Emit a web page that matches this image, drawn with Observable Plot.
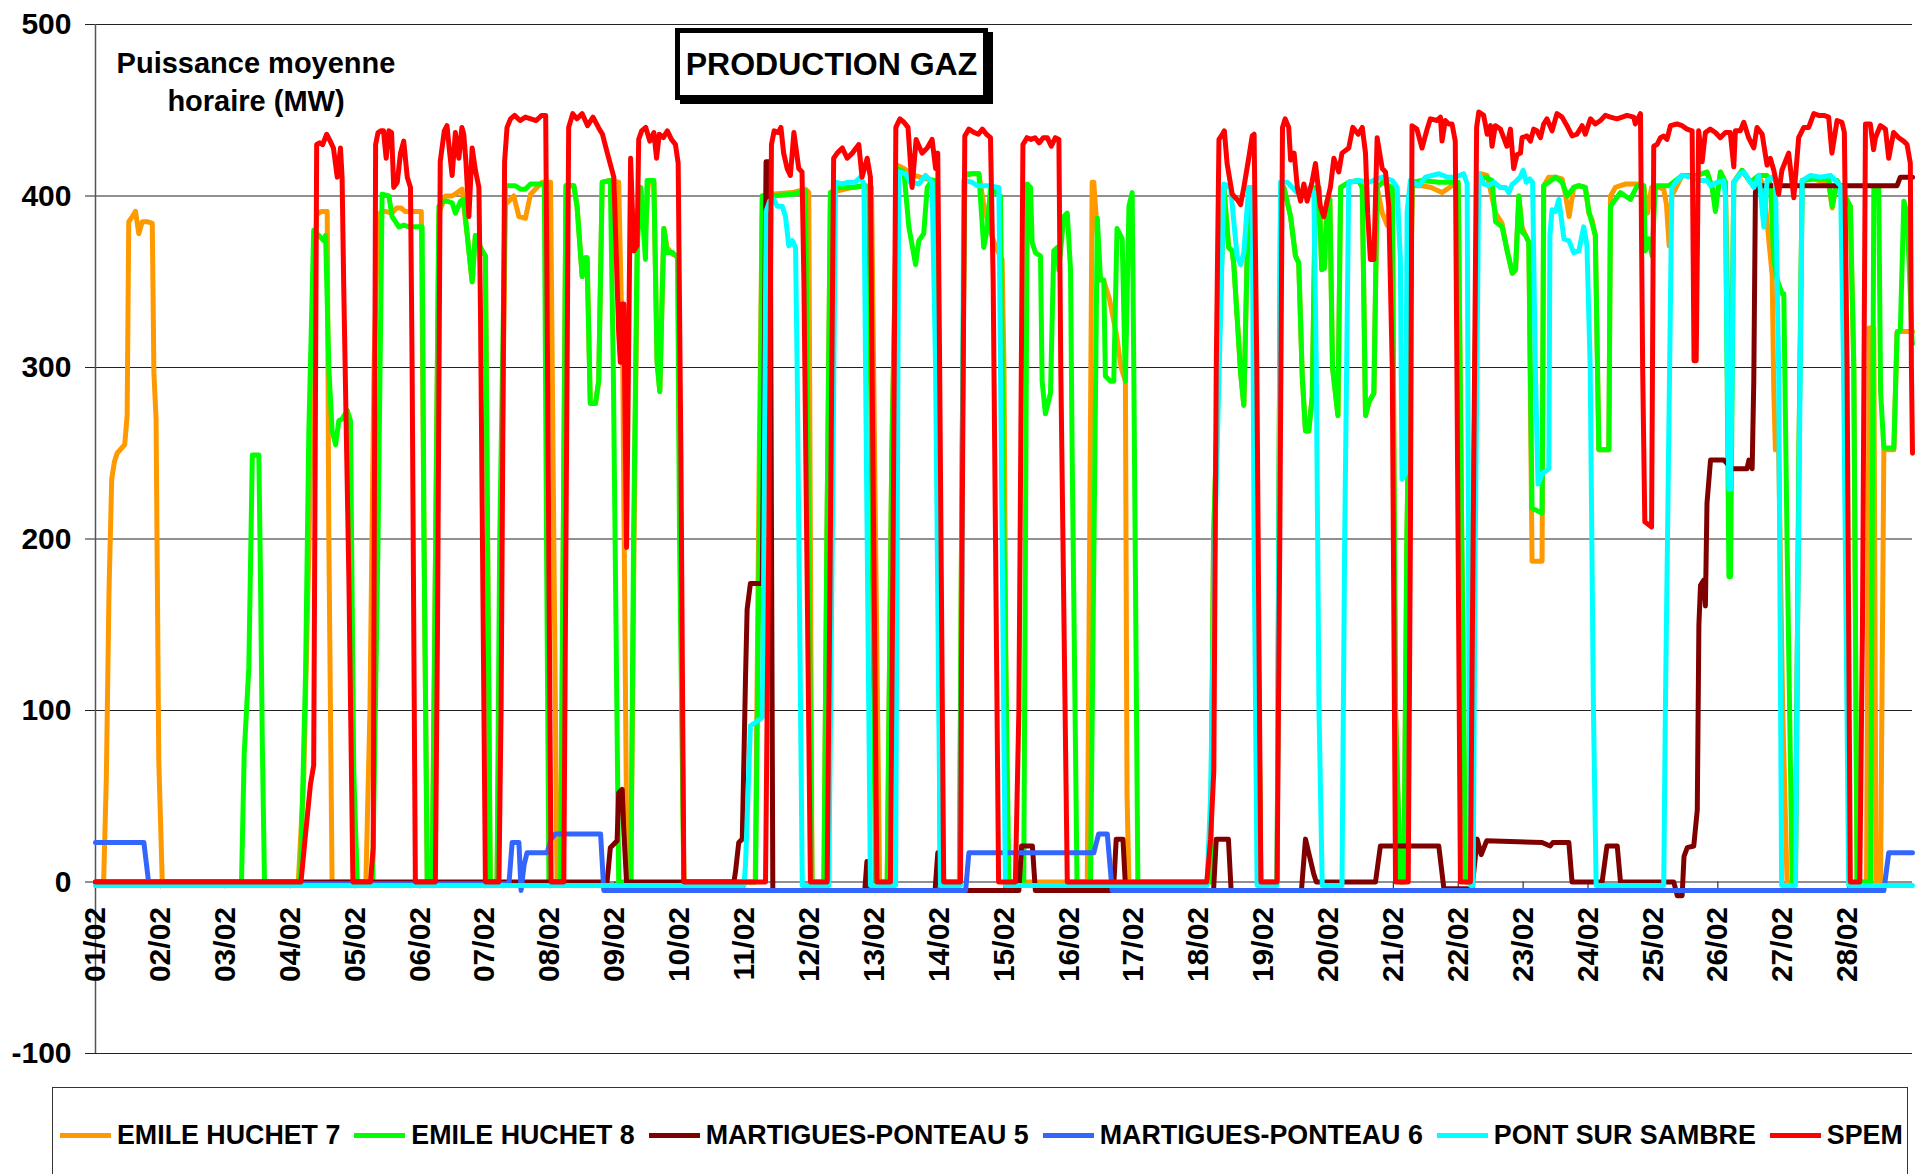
<!DOCTYPE html>
<html><head><meta charset="utf-8">
<script src="https://cdn.jsdelivr.net/npm/d3@7"></script>
<script src="https://cdn.jsdelivr.net/npm/@observablehq/plot@0.6"></script>
<style>
html,body{margin:0;padding:0;background:#fff;overflow:hidden;}
#wrap{position:relative;width:1916px;height:1174px;font-family:"Liberation Sans",Arial,sans-serif;font-weight:bold;color:#000;}
#ylab{position:absolute;left:56px;top:44px;width:400px;text-align:center;font-size:29px;line-height:38px;}
#title{position:absolute;left:675px;top:28px;width:313px;height:72px;box-sizing:border-box;border:5px solid #000;box-shadow:5px 4px 0 #000;background:#fff;text-align:center;font-size:32px;line-height:62px;}
#legend{position:absolute;left:52px;top:1087px;width:1856px;height:120px;box-sizing:border-box;border:1.5px solid #333;padding:32px 0 0 7px;font-size:26.8px;line-height:30px;}
#legendRow{display:flex;align-items:center;height:30px;}
.item{display:flex;align-items:center;margin-right:14px;white-space:nowrap;}
.sw{width:51px;height:5px;margin-right:6px;}
</style></head>
<body><div id="wrap"><div id="chart"></div>
<div id="ylab">Puissance moyenne<br>horaire (MW)</div>
<div id="title">PRODUCTION GAZ</div>
<div id="legend"><div id="legendRow"></div></div>
</div>
<script>
// ---- data: [hour since 01/02 00:00, MW] ----
const seriesNames = ["EMILE HUCHET 7","EMILE HUCHET 8","MARTIGUES-PONTEAU 5","MARTIGUES-PONTEAU 6","PONT SUR SAMBRE","SPEM"];
const dayLabels = ["01/02","02/02","03/02","04/02","05/02","06/02","07/02","08/02","09/02","10/02","11/02","12/02","13/02","14/02","15/02","16/02","17/02","18/02","19/02","20/02","21/02","22/02","23/02","24/02","25/02","26/02","27/02","28/02"];
const yTicks = [-100,0,100,200,300,400,500];

const eh7 = [[0,0],[3,0],[4,60],[5,170],[6,235],[7,245],[8,250],[10.8,255],[11.7,272],[12.3,385],[13.6,388],[14.8,391],[16,378],[17.3,385],[19.1,385],[21,384],[21.6,297],[22.4,270],[23.4,71],[24.7,0],
[75,0],[77,60],[79,200],[80.5,330],[81.8,389],[83.5,391],[85.7,391],[86.3,200],[87.5,0],
[100,0],[101.5,100],[103,300],[104.5,389],[106,391],[107.2,391],[109.6,390],[111.4,393],[113,393],[114.5,391],[117,391],[120.5,391],[121.5,200],[122.7,0],
[124.5,0],[125.5,150],[127,390],[129.4,400],[131.9,400],[133.8,402],[135.6,404],[136.5,390],[137.5,377],[139.3,350],[140.5,377],[143,368],[144.2,365],[145,200],[146,0],
[148.5,0],[150,200],[151.6,395],[154.7,400],[156.6,388],[159,387],[160.9,401],[163.3,405],[165.2,408],[168.3,408],[169.5,200],[170.7,0],
[172,0],[173,200],[174,406],[176.9,406],[178.1,394],[180,353],[181.2,364],[181.8,364],[183,279],[184.9,279],[186.1,292],[187.4,408],[190.4,409],[193.5,408],[195,300],[196.6,0],
[198,0],[199.5,250],[200.5,380],[201.6,405],[203.4,380],[204.5,408],[206.5,408],[207.7,303],[208.7,286],[210.2,381],[211.4,370],[213.5,366],[215.3,365],[216.3,200],[217.6,0],
[244,0],[245.5,250],[246.6,400],[250,401],[257.6,402],[262.6,404],[263.8,402],[265,0],
[269.4,0],[270.5,200],[271.8,402],[280,405],[285,406],[287,405],[288.5,200],[290,0],
[292.8,0],[294.5,250],[296.5,418],[299,416],[303,412],[307,410],[310.7,409],[311.5,250],[312.5,0],
[319.5,0],[320.5,250],[321.5,413],[326.7,413],[328.5,395],[330,385],[331,379],[333,370],[335.3,363],[336,300],[337.2,0],
[366.8,0],[368.6,408],[369.2,408],[370,390],[371.5,352],[373,350],[375,340],[377.5,320],[379.3,300],[380.9,292],[381.5,51],[382.2,0],
[412.4,0],[413.5,200],[417.3,405],[419.1,370],[420.4,368],[421,360],[422.2,330],[423.5,297],[424.7,278],[425.9,363],[427.1,405],[428.4,405],[429.6,200],[431,0],
[437,0],[437.6,200],[438.3,405],[439.5,405],[442,388],[443.8,365],[445,361],[446.3,295],[447.5,263],[448.7,263],[450,283],[451.2,405],[452.5,405],[453.5,357],[454.5,358],[455.5,397],[456.5,398],[457.5,300],[458.5,286],[459.5,272],[460.5,405],[463.5,408],[467.2,409],[468.5,405],[469.7,272],[471,280],[472.8,285],[474,405],[475.9,390],[477.7,383],[479.6,405],[480.8,100],[482.6,0],
[483.9,0],[485,200],[487,406],[490.6,406],[494,405],[498,402],[501.7,406],[504,406],[505.3,200],[506.7,0],
[508.5,0],[509.5,200],[511,408],[512.2,413],[514.7,412],[517.8,390],[520.2,384],[522.1,368],[524,355],[525.2,357],[526.4,400],[527.6,382],[528.9,377],[530.1,373],[531.3,187],[535,187],[535.6,406],[537.5,411],[540,411],[542.4,410],[543.5,402],[545,388],[546.7,405],[548.6,406],[551,405],[552.3,390],[553.5,386],[554.7,377],[556,252],[559.7,252],[560.3,400],[562.1,405],[564,406],[566,407],[570,407],[572.6,406],[574,390],[575.5,405],[578,405],[580,404],[581,395],[582,371],[583,400],[586.8,412],[592.4,412],[596,414],[597.9,405],[599.1,395],[601,414],[602.8,408],[604.1,300],[604.7,250],[605.9,408],[609,415],[612.1,408],[615.2,412],[617,405],[618.2,385],[620.1,354],[620.7,286],[621.3,252],[622.5,252],[624,100],[625.6,0],
[628.7,0],[630,250],[631.2,409],[635.5,410],[641,407],[642.3,393],[644.1,409],[649,394],[650.3,300],[651.5,0],[655,0],[656,323],[657.7,323],[658.5,0],[660.2,0],[661.4,252],[665.1,252],[666.3,321],[668.8,321],[672,321]];

const eh8 = [[0,0],[54,0],[55,75],[56.7,125],[58,249],[60.4,249],[61,180],[61.7,80],[62.5,0],
[75.8,0],[77.7,122],[78.9,263],[80.7,380],[82.6,377],[84.4,374],[85.1,377],[86.3,300],[87.5,263],[88.8,255],[90,269],[91.2,270],[93.1,275],[94.3,269],[95.5,65],[96.8,0],
[102.5,0],[104.5,200],[106,401],[108.5,400],[109.7,388],[112.2,382],[114,383],[116,382],[118.5,382],[120.8,382],[121.5,200],[122.7,0],
[124.5,0],[125.5,150],[127,394],[128.8,397],[130,397],[131.9,396],[133.1,390],[135,397],[136.2,398],[137.5,377],[139.3,350],[140.5,377],[143,368],[144.2,365],[145,200],[146,0],
[148.5,0],[149.5,200],[151.6,406],[155.3,406],[157.2,404],[159,404],[160.9,407],[166,407],[166.8,200],[167.7,0],
[172,0],[173,200],[174,406],[176.9,406],[178.1,394],[180,353],[181.2,364],[181.8,364],[183,279],[184.9,279],[186.1,292],[187.4,408],[190.4,409],[191.5,300],[193.5,0],
[198,0],[199,200],[200.3,368],[201.6,405],[203.4,363],[204,409],[206.5,409],[207.7,303],[208.7,286],[210.2,381],[211.4,367],[213.5,367],[215.3,364],[216,200],[217.6,0],
[244.1,0],[245.5,200],[246.6,400],[250,400],[257.6,401],[262.6,403],[263.2,300],[265,0],
[269.4,0],[270.5,200],[271.8,402],[274.9,405],[279.8,405],[283.5,406],[286,405],[286.6,300],[288.5,0],
[292.8,0],[294.5,250],[296.5,416],[299,414],[300.8,382],[303.3,360],[304.5,374],[306.3,378],[307.6,405],[309.4,409],[310.7,409],[311.5,250],[312.5,0],
[319.5,0],[320.5,250],[321.5,412],[324.2,413],[326.7,413],[328.5,370],[329.8,381],[331,405],[332.9,402],[334.7,400],[336,200],[337.8,0],
[343.3,0],[344.6,407],[345.8,405],[346.4,373],[347.6,367],[349.5,365],[350.1,292],[351.3,273],[353.2,285],[354.4,368],[355.7,370],[356.3,357],[358.1,388],[359.4,390],[360.6,357],[361.2,250],[363,0],
[368,0],[370.5,387],[371.7,351],[372.9,351],[373.5,295],[375.4,292],[376.6,292],[377.8,381],[379.7,375],[380.9,292],[382.2,394],[383.4,402],[384,300],[385.5,0],
[412.4,0],[413.5,200],[417.3,405],[419.1,370],[420.4,368],[421,360],[422.2,330],[423.5,297],[424.7,278],[425.9,363],[427.1,405],[428.4,405],[429.6,200],[431,0],
[437,0],[437.6,200],[438.3,405],[439.5,405],[442,388],[443.8,365],[445,361],[446.3,295],[447.5,263],[448.7,263],[450,283],[451.2,405],[452.5,405],[453.5,357],[454.5,358],[455.5,397],[456.5,398],[457.5,300],[458.5,286],[459.5,272],[460.5,405],[463.5,408],[467.2,409],[468.5,405],[469.7,272],[471,280],[472.8,285],[474,405],[475.9,408],[479.6,405],[480.8,100],[482.6,0],
[483.9,0],[485,200],[487,408],[490.6,409],[496.8,408],[501.7,408],[504,408],[505.3,200],[506.7,0],
[508.5,0],[509.5,200],[511,408],[514.1,411],[516.5,409],[517.8,385],[520.2,382],[522.1,368],[524,355],[525.2,357],[526.4,400],[527.6,379],[528.9,377],[530.1,373],[531.3,218],[535,215],[535.6,406],[537.5,408],[540,411],[542.4,408],[544.3,400],[546.7,405],[548.6,406],[551,405],[552.3,391],[553.5,384],[554.7,377],[556,252],[559.7,252],[560.3,394],[562.1,398],[564,402],[565.8,400],[567.7,398],[568.9,402],[570.2,406],[572.6,406],[573.2,368],[574.5,375],[575.7,365],[576.9,406],[581.9,406],[586.8,412],[592.4,412],[596,414],[597.9,405],[599.1,391],[601,414],[602.8,408],[604.1,178],[604.7,178],[605.9,408],[609,415],[612.1,408],[615.2,412],[618.2,412],[619.5,406],[620.7,363],[622,351],[623.8,343],[624.4,343],[625.6,200],[627.5,0],
[628.7,0],[630,250],[631.2,409],[635.5,410],[641,410],[642.3,394],[644.1,409],[649,394],[650.3,300],[651.5,0],
[656.5,0],[657.7,405],[659.5,405],[660.2,286],[661.4,253],[665.1,253],[666.3,320],[667.5,322],[668.8,397],[670,390],[671.9,314],[672,314]];

const mp5 = [[0,0],[189.2,0],[190.4,20],[192.9,24],[193.5,52],[194.8,54],[195.4,30],[196.4,0],[236.1,0],[236.7,6],[237.9,23],[239.2,25],[239.8,71],[240.4,119],[241,159],[242.2,174],[246.6,174],[248,420],[249.5,420],[250.5,-5],[284.5,-5],[285.3,12],[286.2,-5],[310.5,-5],[311.5,17],[313,17],[314,-5],[341.5,-5],[342.5,21],[346.5,21],[347.6,-5],[376.5,-5],[377.5,25],[380,25],[381,-5],[413.5,-5],[414.5,25],[419,25],[420,-5],[446,-5],[447.5,25],[449,15],[450.5,5],[451.5,0],[473.4,0],[475.2,21],[496.8,21],[498.7,-4],[509.1,-4],[511,25],[512.5,16],[514.5,24],[535,23],[538,21],[539,23],[544.9,23],[546.1,0],[557.2,0],[559,21],[562.8,21],[564,0],[583.7,0],[585,-8],[586.8,-8],[587.5,15],[588.7,20],[591.1,21],[592.4,42],[593,150],[593.6,173],[594.8,176],[595.4,161],[596,221],[597.3,246],[602.2,246],[605.3,241],[610.8,241],[611.5,246],[612.7,241],[613.3,292],[613.9,402],[614.5,406],[666.3,406],[667.5,411],[672,411]];

const mp6 = [[0,23],[17.9,23],[19.7,-1],[152.9,-1],[154.1,23],[156.6,23],[157.4,-5],[158.5,10],[159.6,17],[167,17],[168.5,25],[170,28],[186.8,28],[188,-5],[321.8,-5],[323,17],[369.2,17],[371,28],[374.2,28],[376,-5],[661.4,-5],[663.2,17],[672,17]];

const pss = [[0,-2],[239.8,-2],[240.4,10],[242.2,91],[244.1,93],[246.6,96],[247,150],[248,391],[249.3,397],[250.9,398],[252.1,394],[254,394],[255.2,388],[256.4,371],[257.7,374],[258.9,370],[259.5,300],[261.4,-2],
[271.2,-2],[272.5,200],[273.7,408],[276.1,407],[278.6,408],[281,408],[282.9,411],[284.2,407],[284.8,300],[286.6,-2],
[295.9,-2],[297.1,414],[299.6,413],[301.4,408],[304.5,407],[307,412],[309.4,408],[310.7,300],[312.5,-2],
[319.9,-2],[321.1,409],[324.2,408],[326.1,406],[330.4,406],[334.1,405],[334.7,300],[336.5,-2],
[411.1,-2],[412.4,50],[414,200],[417.3,407],[419.8,405],[422.2,365],[423.5,360],[424.7,367],[426.5,405],[427.8,405],[428.5,200],[429.6,-2],
[437,-2],[438.3,408],[440.8,408],[442.6,405],[444.4,402],[446.9,402],[449.3,405],[450.6,402],[451.5,300],[452.5,100],[453.7,-2],
[461,-2],[462,200],[463.5,408],[467.2,409],[470.9,408],[475.9,411],[479.6,409],[481.4,405],[482.6,363],[483.2,235],[484.5,238],[485.1,391],[486.3,409],[489.4,406],[491.9,411],[496.8,413],[499.9,411],[503,411],[506,413],[507.3,407],[508,100],[508.5,-2],[509.5,-2],[510.3,200],[511.6,413],[513.4,407],[515.3,406],[517.2,408],[519.6,405],[521.5,405],[522.7,402],[524,407],[525,408],[526.9,411],[528,415],[529.2,408],[530.4,410],[531.5,408],[532.5,300],[533.5,232],[535,238],[537.5,241],[537.9,377],[538.7,392],[540,391],[541.2,398],[543.1,375],[544.9,374],[546.7,367],[548.6,368],[550.4,382],[551.6,371],[552.8,300],[554,100],[555,-2],
[580,-2],[580.6,100],[583,405],[585,409],[586.8,412],[589.9,411],[593.6,409],[596,409],[597.3,406],[599.8,408],[602.2,409],[602.8,400],[603.5,300],[604.1,229],[604.7,229],[605.3,300],[605.9,408],[608.3,413],[609.6,414],[612.1,408],[613.3,405],[615.2,412],[617,382],[618.2,409],[620.1,411],[621.3,409],[622.5,300],[623.6,-2],
[628.7,-2],[629.5,150],[631.2,409],[634.3,412],[638,411],[641.7,412],[644.1,408],[645.4,406],[646.5,300],[648.4,-2],[672,-2]];

const spem = [[0,0],[76,0],[77.5,25],[79.5,57],[80.7,68],[81.8,430],[83,431],[84,430],[85.5,436],[86.5,433],[88,428],[89.4,411],[90.6,428],[91.2,411],[91.8,348],[93.7,178],[95.2,0],
[101.7,0],[102.7,20],[103.6,430],[104.5,437],[105.5,438],[106.5,438],[107.5,422],[108.5,438],[109.5,437],[110.3,405],[111.6,408],[112.8,425],[114,432],[115.3,411],[116.5,405],[117.1,300],[118.3,0],
[125.7,0],[126.5,150],[127.5,420],[129,438],[130,441],[131,425],[131.9,412],[133.1,437],[134.4,422],[135.5,440],[136.2,436],[137,420],[138.1,388],[139.3,428],[140.5,415],[141.8,405],[142.4,330],[144.2,0],
[149.2,0],[150,100],[151.3,420],[152.2,440],[153.5,445],[155,447],[157,444],[159,446],[161,445],[163,444],[165,447],[166.5,447],[167.2,300],[168.5,0],
[173.2,0],[174,200],[175,440],[176.5,448],[178,445],[180,448],[182,441],[184,446],[186,440],[187.5,436],[189.3,425],[191.7,411],[193.5,320],[194.1,303],[194.8,337],[195.4,337],[196.4,195],[197.2,314],[197.9,422],[199.1,368],[200.3,371],[200.9,433],[202,438],[203.5,440],[205,432],[206.5,437],[207.5,422],[208.5,436],[210,434],[211.5,438],[213,433],[214.5,430],[215.5,419],[216.5,250],[217.6,0],
[247.8,0],[249,200],[250,430],[251,438],[252.5,437],[253.5,440],[254.5,425],[255.8,416],[257,412],[258.3,437],[260.1,416],[261.3,414],[262,350],[264.4,0],
[270.6,0],[271.5,150],[273,422],[274.3,425],[276.2,428],[278,422],[279.9,425],[282.3,430],[283.5,411],[285.4,422],[286.6,411],[287.2,300],[289,0],
[294,0],[295,200],[296,440],[297.5,445],[299,443],[300.5,440],[302,405],[303.5,433],[305.7,425],[307.6,428],[309.4,433],[310.7,416],[311.5,425],[312.2,300],[313.7,0],
[319.9,0],[320.5,200],[321.5,435],[323,439],[325,437],[326.5,436],[328,439],[329.5,436],[331,434],[332,350],[334,0],
[340.2,0],[341.5,100],[343,430],[344.5,434],[346,433],[347.5,434],[349,431],[350.5,434],[352,434],[353.5,429],[355,434],[356.3,433],[357,300],[359.4,0],
[411,0],[412.4,25],[413.6,65],[414.5,300],[415.5,433],[416.8,436],[417.5,438],[418.5,419],[420.4,401],[422.2,398],[423.5,395],[424.7,405],[426.5,422],[427.8,435],[428.5,436],[429.5,300],[431,0],
[437,0],[438,200],[439,440],[440,445],[441.3,440],[442,421],[443.3,425],[444.5,405],[445.7,397],[446.9,407],[448.1,397],[449.9,408],[451.2,419],[453,394],[454.3,388],[455.5,397],[456.7,405],[458,422],[459.8,414],[461,425],[463.5,428],[465,440],[467,436],[468.5,440],[469.7,425],[470.5,390],[471.5,363],[472.8,363],[474,434],[475.9,416],[477.1,414],[478.3,394],[479.6,300],[480.8,0],
[485.5,0],[486.3,200],[486.9,441],[488.7,439],[490.6,428],[492.5,439],[493.7,445],[496.2,444],[497.4,446],[498,432],[499.2,444],[500.5,442],[501.7,442],[502.9,432],[503.5,300],[504.8,0],
[508.5,0],[509.5,200],[510.8,440],[511.6,449],[513.4,447],[514.7,436],[515.9,441],[516.5,429],[517.7,441],[519.6,439],[520.8,434],[522,429],[523.3,439],[524.5,416],[525.7,424],[527,425],[527.6,434],[529.4,435],[530.7,432],[531.9,439],[533.1,438],[534.4,434],[535.6,442],[536.8,445],[538.7,438],[540.5,448],[542.4,446],[544.2,441],[546.1,435],[547.9,436],[549.8,441],[551,436],[552.9,445],[554.7,442],[556.6,444],[558.4,447],[560.3,446],[562.7,445],[564.6,446],[566.4,447],[568.9,446],[569.5,442],[571.4,448],[572.2,300],[573,210],[575.5,207],[576.3,429],[577.5,430],[578.8,434],[580,435],[581.2,433],[582.5,441],[584.9,442],[586.8,441],[588.6,439],[590.5,438],[591.2,304],[592,304],[592.9,438],[594.2,420],[595.4,437],[597.2,439],[599.1,437],[600.9,434],[602.8,437],[604.6,437],[605.9,417],[606.5,438],[608.3,438],[609.6,443],[611.4,434],[613.3,428],[614.5,440],[616.4,436],[618.2,418],[619.4,422],[620.7,415],[622.5,401],[623.7,415],[626.2,425],[628.1,399],[629.9,434],[631.8,440],[633.6,440],[635.5,448],[637.3,447],[639.2,447],[641,446],[642.2,425],[644.1,444],[645.9,443],[646.8,437],[647.8,300],[649,0],
[652.5,0],[653.5,150],[654.6,442],[656.4,442],[657.6,427],[658.3,434],[660.1,441],[662,439],[663.2,422],[665,437],[666.9,434],[668.7,432],[670,430],[671.2,419],[671.6,300],[672,250]];

// ---- styling ----
const colors = ["#FF9900","#00FF00","#800000","#3366FF","#00FFFF","#FF0000"];
const allSeries = [eh7, eh8, mp5, mp6, pss, spem];
const dayHours = dayLabels.map((_, i) => i * 24);

const lineMarks = allSeries.map((s, i) => Plot.line(s, {x: d => d[0], y: d => d[1], stroke: colors[i], strokeWidth: 5, strokeLinejoin: "round"}));

const chart = Plot.plot({
  width: 1916, height: 1087,
  marginLeft: 95, marginRight: 4, marginTop: 24, marginBottom: 34,
  style: {fontFamily: "'Liberation Sans', Arial, sans-serif", fontWeight: "bold", color: "#000", background: "#fff"},
  x: {domain: [0, 672], axis: null},
  y: {domain: [-100, 500], axis: null},
  marks: [
    Plot.ruleY(yTicks, {stroke: "#222", strokeWidth: 1.2}),
    Plot.axisY(yTicks, {tickSize: 10, tickPadding: 14, fontSize: 30, fontWeight: "bold", stroke: "#222", tickFormat: d => String(d), label: null}),
    Plot.ruleX([0], {y1: -100, y2: 500, stroke: "#555", strokeWidth: 1.5}),
    Plot.ruleX(dayHours, {y1: 0, y2: -4, stroke: "#333", strokeWidth: 1.2}),
    Plot.text(dayHours, {x: d => d, y: 0, text: (d, i) => dayLabels[i], rotate: -90, textAnchor: "end", lineAnchor: "middle", dy: 25, fontSize: 30, fontWeight: "bold", fill: "#000"}),
    ...lineMarks
  ]
});
document.getElementById("chart").appendChild(chart);

const row = document.getElementById("legendRow");
seriesNames.forEach((n, i) => {
  const it = document.createElement("div"); it.className = "item";
  const sw = document.createElement("div"); sw.className = "sw"; sw.style.background = colors[i];
  const tx = document.createElement("span"); tx.textContent = n;
  it.appendChild(sw); it.appendChild(tx); row.appendChild(it);
});
</script></body></html>
